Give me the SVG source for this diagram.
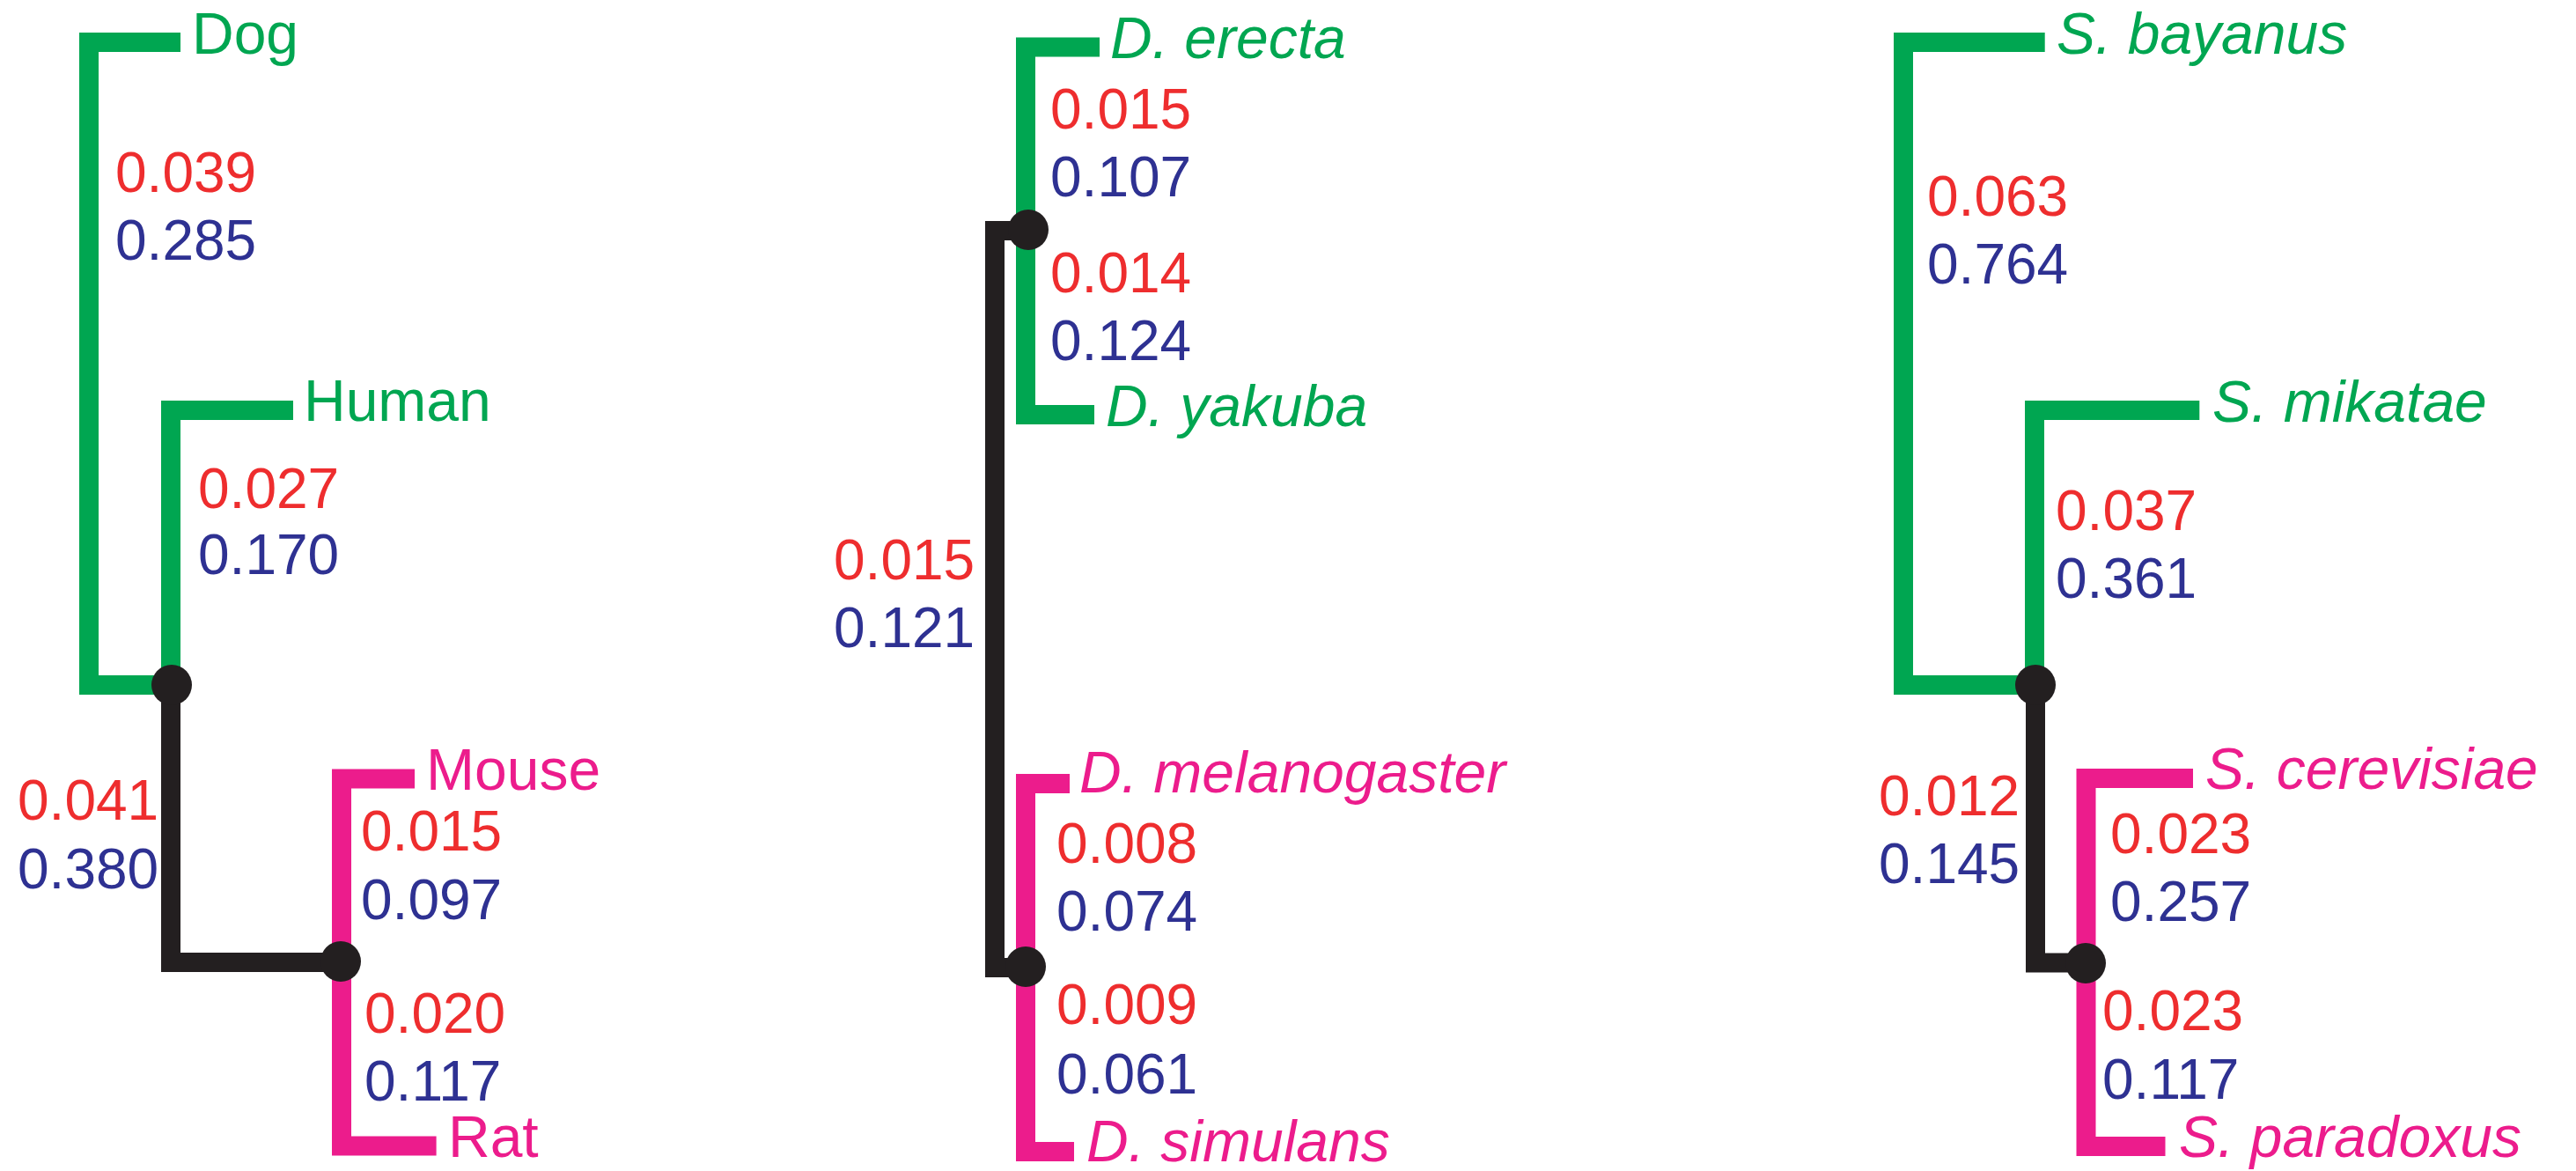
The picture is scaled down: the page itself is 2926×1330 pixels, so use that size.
<svg xmlns="http://www.w3.org/2000/svg" width="2926" height="1330" viewBox="0 0 2926 1330">
<style>
.b{fill:none;stroke-width:22;stroke-linejoin:miter;stroke-linecap:butt}
.g{stroke:#00A651}.p{stroke:#EC1C8C}.k{stroke:#231F20}
.n{fill:#231F20}
text{font-family:"Liberation Sans",Arial,Helvetica,sans-serif}
.lab{font-size:66px}
.it{font-style:italic}
.lg{fill:#00A651}.lp{fill:#EC1C8C}
.r{fill:#EE2D2E;font-size:64px}.bl{fill:#2E3192;font-size:64px}
</style>
<rect width="2926" height="1330" fill="#fff"/>
<g id="connectors">
  <!-- left tree -->
  <path class="b g" d="M205,48 H101 V778 H195"/>
  <path class="b g" d="M333,466 H194 V778"/>
  <path class="b k" d="M194,778 V1093 H387"/>
  <path class="b p" d="M471,884.5 H388 V1301.6 H495.6"/>
  <!-- middle tree -->
  <path class="b g" d="M1249,53.5 H1165 V471 H1243"/>
  <path class="b k" d="M1168,262 H1130 V1099 H1165"/>
  <path class="b p" d="M1215,890 H1165 V1308 H1220"/>
  <!-- right tree -->
  <path class="b g" d="M2322.7,48 H2162 V778 H2312"/>
  <path class="b g" d="M2498.3,466 H2311 V778"/>
  <path class="b k" d="M2312,778 V1093.5 H2369.5"/>
  <path class="b p" d="M2491,884 H2369.5 V1302 H2459.5"/>
</g>
<g id="edge-labels">
  <text class="r" x="131" y="218">0.039</text><text class="bl" x="131" y="295">0.285</text>
  <text class="r" x="225" y="577">0.027</text><text class="bl" x="225" y="652">0.170</text>
  <text class="r" x="20" y="931">0.041</text><text class="bl" x="20" y="1009">0.380</text>
  <text class="r" x="410" y="966">0.015</text><text class="bl" x="410" y="1044">0.097</text>
  <text class="r" x="414" y="1173">0.020</text><text class="bl" x="414" y="1250">0.117</text>

  <text class="r" x="1193" y="146">0.015</text><text class="bl" x="1193" y="223">0.107</text>
  <text class="r" x="1193" y="332">0.014</text><text class="bl" x="1193" y="409">0.124</text>
  <text class="r" x="947" y="658">0.015</text><text class="bl" x="947" y="735">0.121</text>
  <text class="r" x="1200" y="980">0.008</text><text class="bl" x="1200" y="1057">0.074</text>
  <text class="r" x="1200" y="1163">0.009</text><text class="bl" x="1200" y="1242">0.061</text>

  <text class="r" x="2189" y="245">0.063</text><text class="bl" x="2189" y="322">0.764</text>
  <text class="r" x="2335" y="602">0.037</text><text class="bl" x="2335" y="679">0.361</text>
  <text class="r" x="2134" y="926">0.012</text><text class="bl" x="2134" y="1003">0.145</text>
  <text class="r" x="2397" y="969">0.023</text><text class="bl" x="2397" y="1046">0.257</text>
  <text class="r" x="2388" y="1170">0.023</text><text class="bl" x="2388" y="1248">0.117</text>
</g>
<g id="node-dog"><text class="lab lg" x="218" y="61">Dog</text></g>
<g id="node-human"><text class="lab lg" x="345" y="478">Human</text></g>
<g id="node-mouse"><text class="lab lp" x="484" y="897">Mouse</text></g>
<g id="node-rat"><text class="lab lp" x="509" y="1314">Rat</text></g>
<g id="node-mammal-root"><circle class="n" cx="195" cy="778" r="23"/></g>
<g id="node-rodent"><circle class="n" cx="387" cy="1092" r="23"/></g>

<g id="node-derecta"><text class="lab lg it" x="1261" y="66">D. erecta</text></g>
<g id="node-dyakuba"><text class="lab lg it" x="1256" y="484">D. yakuba</text></g>
<g id="node-dmelanogaster"><text class="lab lp it" x="1226" y="900">D. melanogaster</text></g>
<g id="node-dsimulans"><text class="lab lp it" x="1234" y="1319">D. simulans</text></g>
<g id="node-dros-green"><circle class="n" cx="1168" cy="261" r="23"/></g>
<g id="node-dros-pink"><circle class="n" cx="1165" cy="1098" r="23"/></g>

<g id="node-sbayanus"><text class="lab lg it" x="2336" y="61">S. bayanus</text></g>
<g id="node-smikatae"><text class="lab lg it" x="2513" y="479">S. mikatae</text></g>
<g id="node-scerevisiae"><text class="lab lp it" x="2505" y="896">S. cerevisiae</text></g>
<g id="node-sparadoxus"><text class="lab lp it" x="2475" y="1314">S. paradoxus</text></g>
<g id="node-yeast-root"><circle class="n" cx="2312" cy="778" r="23"/></g>
<g id="node-yeast-pink"><circle class="n" cx="2369" cy="1094" r="23"/></g>
</svg>
